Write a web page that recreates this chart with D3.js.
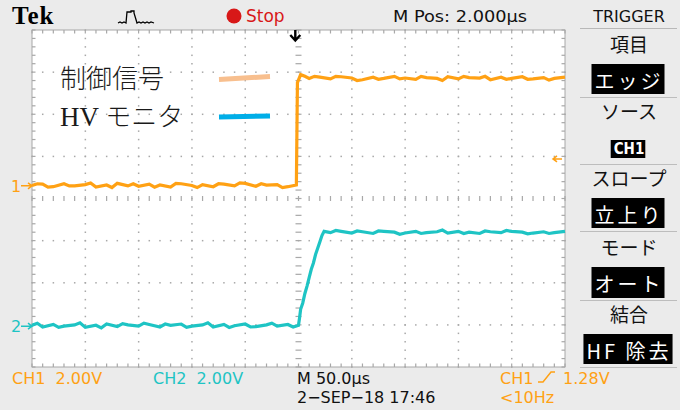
<!DOCTYPE html>
<html><head><meta charset="utf-8">
<script src="https://cdn.jsdelivr.net/npm/d3@7"></script>
<style>body{margin:0;background:#ebebeb}svg{display:block}</style>
</head><body>
<svg id="scope" width="680" height="410"></svg>
<script>
'use strict';
// scope settings
const timePerDiv = 50;           // µs/div
const voltsPerDiv = [2.0, 2.0];  // CH1, CH2
const chOffsets = [0.3, -3.03];  // ground marker position, divisions from centre
const trigLevel = 1.28;          // V on CH1

// CH1 control signal [µs, V]
const ch1Trace = [
  [-250,0.02],[-245,0.1],[-240,0.08],[-235,-0.06],[-230,-0.04],[-220,0.1],[-215,0.0],[-210,0.0],[-200,0.06],
  [-195,0.14],[-190,-0.06],[-180,0.04],[-175,-0.08],[-170,0.12],[-160,0.0],[-155,0.1],[-150,-0.02],
  [-140,0.08],[-135,-0.06],[-130,0.04],[-120,-0.06],[-115,0.12],[-110,0.1],[-100,0.02],[-95,-0.08],
  [-90,0.06],[-80,-0.04],[-75,0.1],[-70,0.08],[-60,0.0],[-55,0.14],[-50,0.12],[-40,-0.02],[-35,0.1],
  [-30,0.04],[-20,0.06],[-15,-0.08],[-10,-0.04],[-2,0.04],
  [-1,4.9],[2,5.28],[6,5.2],[10,5.1],[15,5.2],[20,5.16],[30,5.08],[35,5.2],[40,5.18],[50,5.12],[55,5.0],
  [60,5.04],[70,5.16],[75,5.06],[80,5.1],[90,5.2],[95,5.08],[100,5.12],[110,5.06],[115,5.2],[120,5.14],
  [130,5.1],[135,5.0],[140,5.18],[150,5.08],[155,5.2],[160,5.14],[170,5.12],[175,5.2],[180,5.04],
  [190,5.16],[195,5.06],[200,5.1],[210,5.18],[215,5.06],[220,5.08],[230,5.14],[235,5.02],[240,5.1],[250,5.16]
];
// CH2 HV monitor [µs, V]
const ch2Trace = [
  [-250,0.04],[-245,0.14],[-240,-0.04],[-230,0.08],[-225,-0.06],[-220,0.0],[-210,0.06],[-205,0.16],
  [-200,-0.06],[-190,0.04],[-185,-0.08],[-180,0.1],[-170,-0.02],[-165,0.12],[-160,0.06],[-150,0.0],
  [-145,0.14],[-140,0.08],[-130,-0.04],[-125,0.1],[-120,0.04],[-110,0.1],[-105,-0.06],[-100,0.0],
  [-90,0.06],[-85,0.16],[-80,-0.04],[-70,0.08],[-65,-0.06],[-60,0.02],[-50,0.1],[-45,-0.04],[-40,-0.02],
  [-30,0.06],[-25,0.14],[-20,0.0],[-10,0.08],[-5,-0.04],[0,0.04],
  [1,0.4],[2,0.8],[4,1.1],[6,1.55],[8,1.9],[10,2.3],[12,2.7],[14,3.0],[16,3.4],[18,3.7],[20,4.0],
  [22,4.3],[24,4.5],
  [30,4.44],[35,4.54],[40,4.5],[50,4.42],[55,4.52],[60,4.48],[70,4.4],[75,4.52],[80,4.5],[90,4.46],
  [95,4.36],[100,4.42],[110,4.5],[115,4.4],[120,4.44],[130,4.48],[135,4.56],[140,4.42],[150,4.5],
  [155,4.4],[160,4.46],[170,4.4],[175,4.52],[180,4.48],[190,4.44],[195,4.54],[200,4.5],[210,4.46],
  [215,4.38],[220,4.42],[230,4.48],[235,4.4],[240,4.44],[250,4.5]
];

const legendItems = [
  { label: '制御信号', latin: '', color: '#f8bf8e' },
  { label: 'モニタ', latin: 'HV ', color: '#00aee8' }
];
const menuItems = [
  { title: '項目', value: 'エッジ' },
  { title: 'ソース', value: 'CH1' },
  { title: 'スロープ', value: '立上り' },
  { title: 'モード', value: 'オート' },
  { title: '結合', value: 'HF 除去' }
];

const col1 = '#ffa114', col2 = '#1ec4c4';
const svg = d3.select('#scope');
const P = { l: 32, r: 565, t: 30, b: 367 };
const x = d3.scaleLinear().domain([-5 * timePerDiv, 5 * timePerDiv]).range([P.l, P.r]);
const y = d3.scaleLinear().domain([-4, 4]).range([P.b, P.t]);

// screen
svg.append('rect').attr('x', P.l).attr('y', P.t).attr('width', P.r - P.l).attr('height', P.b - P.t)
  .attr('fill', '#fff').attr('stroke', '#a8a8a8').attr('stroke-width', 1);

const g = svg.append('g').attr('fill', '#a8a8a8');
const xMinor = d3.range(-25, 26).map(i => i * timePerDiv / 5);
const yMinor = d3.range(-20, 21).map(i => i / 5);
const xMajor = d3.range(-5, 6).map(i => i * timePerDiv);
const yMajor = d3.range(-4, 5);
// dotted grid
xMajor.slice(1, -1).filter(t => t !== 0).forEach(t => {
  yMinor.forEach(v => g.append('rect').attr('x', x(t) - 0.7).attr('y', y(v) - 0.7).attr('width', 1.5).attr('height', 1.5));
});
yMajor.slice(1, -1).filter(v => v !== 0).forEach(v => {
  xMinor.forEach(t => g.append('rect').attr('x', x(t) - 0.7).attr('y', y(v) - 0.7).attr('width', 1.5).attr('height', 1.5));
});
// centre and edge ticks
yMinor.forEach(v => {
  g.append('rect').attr('x', x(0) - 3).attr('y', y(v) - 0.6).attr('width', 6).attr('height', 1.2);
  g.append('rect').attr('x', P.l).attr('y', y(v) - 0.6).attr('width', 3.5).attr('height', 1.2);
  g.append('rect').attr('x', P.r - 3.5).attr('y', y(v) - 0.6).attr('width', 3.5).attr('height', 1.2);
});
xMinor.forEach(t => {
  g.append('rect').attr('x', x(t) - 0.6).attr('y', y(0) - 2.5).attr('width', 1.2).attr('height', 5);
  g.append('rect').attr('x', x(t) - 0.6).attr('y', P.t).attr('width', 1.2).attr('height', 3.5);
  g.append('rect').attr('x', x(t) - 0.6).attr('y', P.b - 3.5).attr('width', 1.2).attr('height', 3.5);
});

// traces
const line = (ch) => d3.line().x(d => x(d[0])).y(d => y(chOffsets[ch] + d[1] / voltsPerDiv[ch]));
svg.append('path').datum(ch1Trace).attr('d', line(0)).attr('fill', 'none').attr('stroke', col1)
  .attr('stroke-width', 3.2).attr('stroke-linejoin', 'miter');
svg.append('path').datum(ch2Trace).attr('d', line(1)).attr('fill', 'none').attr('stroke', col2)
  .attr('stroke-width', 3.2).attr('stroke-linejoin', 'miter');

// channel ground markers
[[0, col1, '1'], [1, col2, '2']].forEach(([ch, c, n]) => {
  const yy = y(chOffsets[ch]);
  svg.append('text').attr('x', 11).attr('y', yy + 6).attr('fill', c)
    .style('font', '16px "DejaVu Sans", sans-serif').text(n);
  svg.append('path').attr('d', `M21,${yy} H32 M28,${yy - 3} L32,${yy} L28,${yy + 3}`)
    .attr('stroke', c).attr('stroke-width', 1.5).attr('fill', 'none');
});
// trigger level marker
const ty = y(chOffsets[0] + trigLevel / voltsPerDiv[0]);
svg.append('path').attr('d', `M562,${ty} H553 M557,${ty - 3} L553,${ty} L557,${ty + 3}`)
  .attr('stroke', col1).attr('stroke-width', 1.5).attr('fill', 'none');
// trigger position arrow
const tx = x(-3);
svg.append('path').attr('d', `M${tx},30 V40 M${tx - 5},35 L${tx},40.5 L${tx + 5},35`)
  .attr('stroke', '#000').attr('stroke-width', 2.4).attr('fill', 'none');

// legend
legendItems.forEach((d, i) => {
  const yy = 88 + i * 38;
  const t = svg.append('text').attr('x', 60).attr('y', yy).attr('fill', '#1a1a1a');
  if (d.latin) t.append('tspan').style('font', '27px "Liberation Serif", serif').text(d.latin);
  t.append('tspan').style('font', '300 26px "Noto Sans CJK JP", sans-serif').text(d.label);
  svg.append('line').attr('x1', 219).attr('x2', 270).attr('y1', yy - 9 + (i ? 0 : 0.5)).attr('y2', yy - 10 - (i ? 0 : 1.5))
    .attr('stroke', d.color).attr('stroke-width', 5);
});

// top bar
svg.append('text').attr('x', 12).attr('y', 24).style('font', 'bold 25px "Liberation Serif", serif')
  .style('letter-spacing', '1px').text('Tek');
svg.append('path').attr('d', 'M118,23 L120,22 L122,23 L124,22 L126,23 L127,12 L131,12 L131,11 L134,11 L134,13 L137,23 L139,22 L141,23 L143,22 L145,23 L147,22 L149,23 L151,22 L154,23')
  .attr('stroke', '#000').attr('stroke-width', 1.3).attr('fill', 'none');
svg.append('circle').attr('cx', 234).attr('cy', 16).attr('r', 7.5).attr('fill', '#d81818');
svg.append('text').attr('x', 246).attr('y', 22).attr('fill', '#d81818')
  .style('font', '17px "DejaVu Sans", sans-serif').text('Stop');
svg.append('text').attr('x', 393).attr('y', 22).attr('fill', '#111')
  .attr('textLength', 134).attr('lengthAdjust', 'spacingAndGlyphs')
  .style('font', '16px "DejaVu Sans", sans-serif').text('M Pos: 2.000\u00b5s');
svg.append('text').attr('x', 629).attr('y', 22).attr('text-anchor', 'middle').attr('fill', '#111')
  .style('font', '16px "DejaVu Sans", sans-serif').text('TRIGGER');
svg.append('line').attr('x1', 580).attr('x2', 677).attr('y1', 28.5).attr('y2', 28.5).attr('stroke', '#b8b8b8');

// trigger menu
const boxH = [30, 18, 30, 31, 30];
const rowTop = [30, 97, 164, 233, 300];
menuItems.forEach((d, i) => {
  const top = rowTop[i];
  svg.append('text').attr('x', 629).attr('y', top + 22).attr('text-anchor', 'middle').attr('fill', '#111')
    .style('font', '19px "Noto Sans CJK JP", sans-serif').text(d.title);
  const isAscii = d.value === 'CH1';
  const t = svg.append('text').attr('x', 629).attr('y', top + (isAscii ? 57 : 59)).attr('text-anchor', 'middle')
    .attr('fill', '#fff').style('font', (isAscii ? 'bold 15px "DejaVu Sans Condensed", sans-serif' : '20px "Noto Sans CJK JP", sans-serif'))
    .style('letter-spacing', isAscii ? '0px' : '3px').text(d.value);
  const bb = t.node().getBBox();
  const bh = boxH[i];
  const by = top + (isAscii ? 43 : 34);
  svg.insert('rect', 'text:last-of-type').attr('x', bb.x - 3).attr('y', by).attr('width', bb.width + 4).attr('height', bh)
    .attr('fill', '#000');
  t.raise();
  svg.append('line').attr('x1', 580).attr('x2', 677).attr('y1', top + 67.5).attr('y2', top + 67.5).attr('stroke', '#bdbdbd');
});

// status line
const statFont = '16px "DejaVu Sans", sans-serif';
const stat = [
  { x: 12, y: 384, c: col1, s: 'CH1  2.00V' },
  { x: 153, y: 384, c: col2, s: 'CH2  2.00V' },
  { x: 297, y: 384, c: '#111', s: 'M 50.0\u00b5s' },
  { x: 297, y: 403, c: '#111', s: '2\u2212SEP\u221218 17:46' },
  { x: 500, y: 384, c: col1, s: 'CH1' },
  { x: 563, y: 384, c: col1, s: '1.28V' },
  { x: 500, y: 403, c: col1, s: '<10Hz' }
];
stat.forEach(d => svg.append('text').attr('x', d.x).attr('y', d.y).attr('fill', d.c)
  .style('font', statFont).style('white-space', 'pre').attr('xml:space', 'preserve').text(d.s));
// rising slope glyph
svg.append('path').attr('d', 'M538,382 H543 L551,372 H555').attr('stroke', col1).attr('stroke-width', 1.5).attr('fill', 'none');
</script>
</body></html>
